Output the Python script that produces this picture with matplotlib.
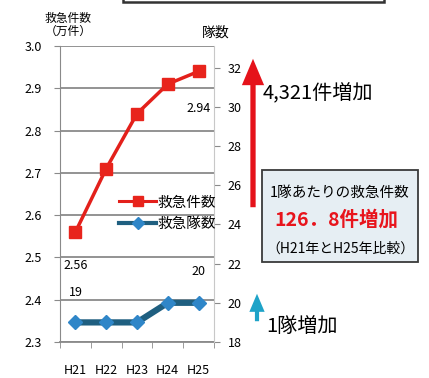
import numpy as np
import matplotlib.pyplot as plt
from matplotlib.patches import Rectangle, FancyArrowPatch
from matplotlib.lines import Line2D

plt.rcParams['font.family'] = ['Noto Sans CJK JP', 'DejaVu Sans']

years = ["H21", "H22", "H23", "H24", "H25"]
calls = [2.56, 2.71, 2.84, 2.91, 2.94]   # 救急件数 (万件)
units = [19, 19, 19, 20, 20]             # 救急隊数
left_ticks = [2.3, 2.4, 2.5, 2.6, 2.7, 2.8, 2.9, 3.0]
right_ticks = [18, 20, 22, 24, 26, 28, 30, 32]

W, H = 429, 378
fig = plt.figure(figsize=(W / 100, H / 100), dpi=100)


def fx(px):
    return px / W


def fy(py):
    return 1 - py / H


ax = fig.add_axes([fx(60), fy(342), fx(214) - fx(60), fy(46) - fy(342)])
ax2 = ax.twinx()

grid_c = "#8a8a8a"
x = np.arange(len(years))

ax.set_xlim(-0.5, len(years) - 0.5)
ax.set_ylim(2.3, 3.0)
ax.set_yticks(left_ticks)
ax.set_yticklabels([f"{v:.1f}" for v in left_ticks], fontsize=9)
ax.yaxis.grid(True, color=grid_c, lw=1.3)
ax.set_axisbelow(True)
ax.set_xticks(x)
ax.set_xticklabels(years, fontsize=9)
ax.set_xticks(np.arange(-0.5, len(years)), minor=True)
ax.tick_params(axis="x", which="major", length=0, pad=16)
ax.tick_params(axis="x", which="minor", length=4, color=grid_c, direction="out")
ax.tick_params(axis="y", length=4, color=grid_c, pad=9)
for side in ["top", "right"]:
    ax.spines[side].set_visible(False)
ax.spines["left"].set_color(grid_c)
ax.spines["bottom"].set_color(grid_c)
ax.spines["bottom"].set_linewidth(1.3)

ax2.set_ylim(18, 33.1)
ax2.set_yticks(right_ticks)
ax2.set_yticklabels([str(v) for v in right_ticks], fontsize=9)
ax2.tick_params(axis="y", length=4, color=grid_c, pad=6)
for side in ["top", "left", "bottom"]:
    ax2.spines[side].set_visible(False)
ax2.spines["right"].set_color("#c8c8c8")

red_line, = ax.plot(x, calls, color="#e3201b", lw=2.5, marker="s", ms=9,
                    mfc="#e8241c", mec="#e8241c", zorder=3)
blue_line, = ax2.plot(x, units, color="#1f5f80", lw=4.5, marker="D", ms=7,
                      mfc="#2f86c8", mec="#2f86c8", zorder=3)

ax.annotate(f"{calls[0]:.2f}", (x[0], calls[0]), xytext=(0, -33),
            textcoords="offset pixels", ha="center", va="center", fontsize=9)
ax.annotate(f"{calls[-1]:.2f}", (x[-1], calls[-1]), xytext=(0, -37),
            textcoords="offset pixels", ha="center", va="center", fontsize=9)
ax2.annotate(str(units[0]), (x[0], units[0]), xytext=(0, 30),
             textcoords="offset pixels", ha="center", va="center", fontsize=9)
ax2.annotate(str(units[-1]), (x[-1], units[-1]), xytext=(0, 31),
             textcoords="offset pixels", ha="center", va="center", fontsize=9)

h1 = Line2D([], [], color="#e3201b", lw=2.2, marker="s", ms=7, mfc="#e8241c", mec="#e8241c")
h2 = Line2D([], [], color="#1f5f80", lw=3.0, marker="D", ms=6, mfc="#2f86c8", mec="#2f86c8")
ax2.legend([h1, h2], ["救急件数", "救急隊数"], loc="center left",
           bbox_to_anchor=(0.3, 0.435), frameon=False, fontsize=10.5,
           handlelength=2.5, handletextpad=0.1, labelspacing=0.5)

fig.text(fx(45), fy(12), "救急件数\n（万件）", fontsize=8.5, ha="left", va="top",
         linespacing=1.0)
fig.text(fx(202), fy(33), "隊数", fontsize=10, ha="left", va="center")

# top frame, partly cut off by the figure edge
fig.add_artist(Rectangle((fx(123), fy(2)), fx(384) - fx(123), 0.05,
                         transform=fig.transFigure, fc="white", ec="#333333", lw=1.8))

# increase arrows
fig.add_artist(FancyArrowPatch((fx(253), fy(210)), (fx(253), fy(56)),
                               transform=fig.transFigure,
                               arrowstyle="simple,head_width=1.6,head_length=1.9,tail_width=0.38",
                               mutation_scale=10, color="#e5121a", lw=0))
fig.add_artist(FancyArrowPatch((fx(257), fy(324)), (fx(257), fy(291)),
                               transform=fig.transFigure,
                               arrowstyle="simple,head_width=1.1,head_length=1.3,tail_width=0.3",
                               mutation_scale=10, color="#1ea3c8", lw=0))

fig.text(fx(263), fy(94), "4,321件増加", fontsize=14.5, ha="left", va="center")
fig.text(fx(266), fy(326), "1隊増加", fontsize=14.5, ha="left", va="center")

fig.add_artist(Rectangle((fx(262), fy(262)), fx(418) - fx(262), fy(170) - fy(262),
                         transform=fig.transFigure, fc="#e6eef3", ec="#3a3a3a", lw=1.3))
fig.text(fx(340), fy(193), "1隊あたりの救急件数", fontsize=10.5, ha="center", va="center")
fig.text(fx(336), fy(220), "126．8件増加", fontsize=14, color="#e8141c",
         fontweight="bold", ha="center", va="center")
fig.text(fx(340), fy(249), "（H21年とH25年比較）", fontsize=10, ha="center", va="center")

fig.savefig("out.png", dpi=100)
